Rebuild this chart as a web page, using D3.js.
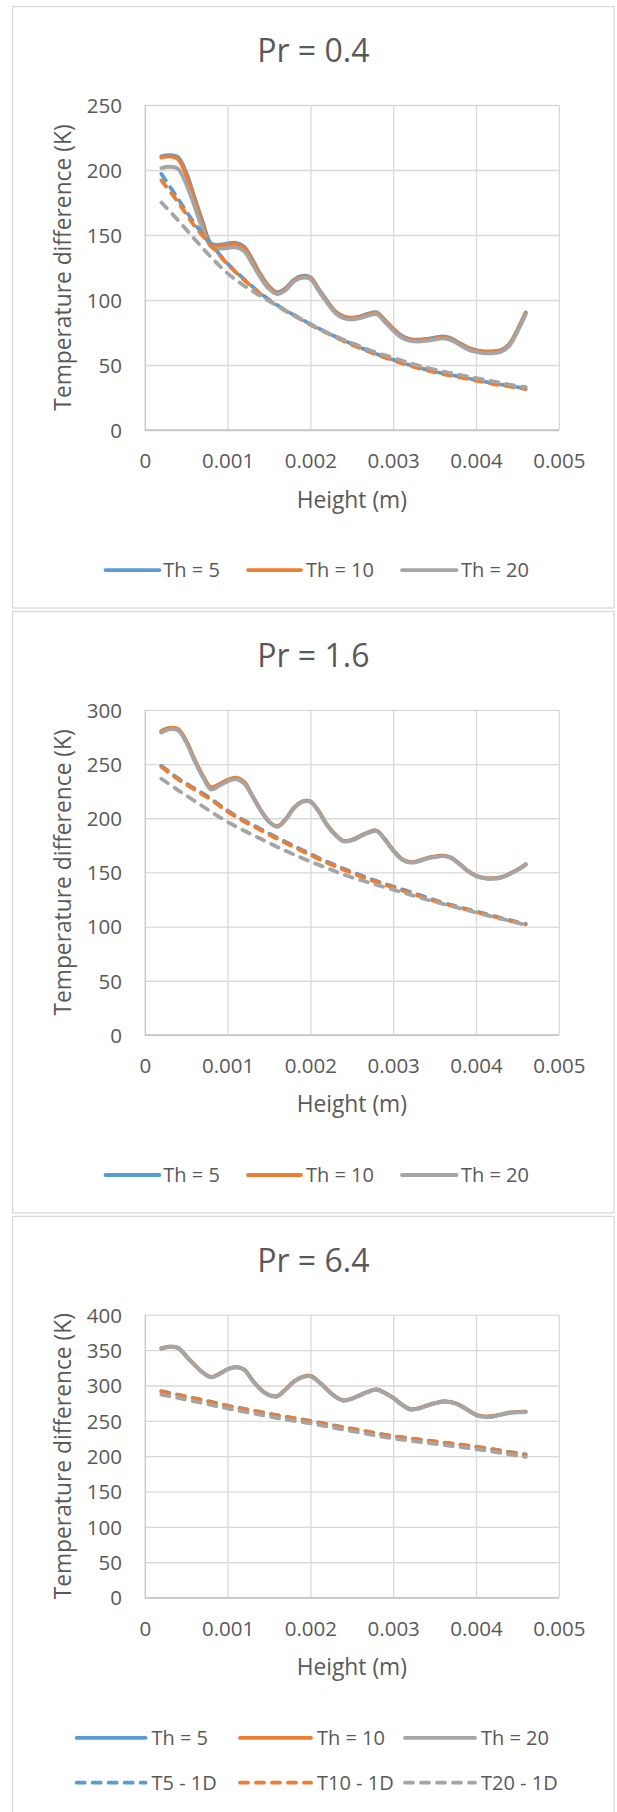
<!DOCTYPE html>
<html><head><meta charset="utf-8">
<script src="https://cdn.jsdelivr.net/npm/d3@7"></script>
<style>
html,body{margin:0;padding:0;background:#fff;}
svg{display:block;font-family:"Open Sans","Noto Sans",sans-serif;}
</style></head><body>
<svg id="chart" width="617" height="1812"></svg>
<script>
// ---------------- DATA ----------------
const heightSolid = [0.0002,0.0003,0.0004,0.0005,0.0006,0.0007,0.0008,0.0009,0.0010,0.0011,0.0012,0.0013,0.0014,0.0015,0.0016,0.0017,0.0018,0.0019,0.0020,0.0021,0.0022,0.0023,0.0024,0.0025,0.0026,0.0027,0.0028,0.0029,0.0030,0.0031,0.0032,0.0033,0.0034,0.0035,0.0036,0.0037,0.0038,0.0039,0.0040,0.0041,0.0042,0.0043,0.0044,0.0045,0.0046];
const heightDashed = [0.0002,0.0004,0.0006,0.0008,0.0010,0.0012,0.0014,0.0016,0.0018,0.0020,0.0022,0.0024,0.0026,0.0028,0.0030,0.0032,0.0034,0.0036,0.0038,0.0040,0.0042,0.0044,0.0046];

const xTickValues = [0,0.001,0.002,0.003,0.004,0.005];
const xTickLabels = ["0","0.001","0.002","0.003","0.004","0.005"];

const seriesNames = ["Th = 5","Th = 10","Th = 20","T5 - 1D","T10 - 1D","T20 - 1D"];
const seriesColors = ["#5B9BD5","#ED7D31","#A5A5A5"];

// Pr = 0.4
const pr04Title = "Pr = 0.4";
const pr04YTicks = [0,50,100,150,200,250];
const pr04Th5  = [210.5,211.5,210,198,179,160,143.5,142.5,143.5,144,141,131,119.5,110.5,106,109,115.5,118.5,117.5,108.5,99.5,91.5,87.5,86.5,87.5,89.5,90.5,84.5,78,72.5,70,69.5,70,71,72,70.5,67,63.5,61.5,60.5,60.5,61.5,66,77,90.5];
const pr04Th10 = [209.5,210.5,208.5,196,177,158,142,141.5,142.5,143,140,130,119,110,105.5,108.5,115,118,117,108,99,91,87,86,87,89,90,84,77.5,72,69.5,69,69.5,70.5,71.5,70,66.5,63,61,60,60,61,65.5,76.5,90];
const pr04Th20 = [201.5,202.5,201,189,172,154,141,139.5,140,140.5,137.5,127.5,117,108.5,104.5,107.5,114,117,116,107,98,90,86,85,86,88,89,83,76.5,71,68.5,68,68.5,69.5,70.5,69,65.5,62,60,59,59,60,64.5,75.5,89];
const pr04T5  = [197,178,159,143,128,116,105,96,88.5,81.5,75,69,63.5,58.5,54,50,46.5,43.5,41,38.5,36,34,32];
const pr04T10 = [192,175.5,157,142,127.5,115.5,104.5,95.5,88,81,74.5,68.5,63,58,53.5,49.5,46,43,40.5,38,35.5,33.5,31.5];
const pr04T20 = [175,161.5,147,133,120.5,111,103,95.5,88.5,81.5,75,69.5,64.5,59.5,55.5,51.5,48,45,42.5,40,37.5,35,33];

// Pr = 1.6
const pr16Title = "Pr = 1.6";
const pr16YTicks = [0,50,100,150,200,250,300];
const pr16Th5  = [280,283,282,271,254,239,228,231,235,237,233,220.5,207.5,197,192.5,199,209.5,215.5,215.5,206.5,194,185,179,180,183.5,187,188.5,180.5,170.5,162.5,159.5,160.5,163,164.5,165.5,163.5,158,151.5,147,145,144.5,145.5,148.5,152.5,157.5];
const pr16Th10 = [280.5,283.5,282.5,271.5,254.5,239.5,228.5,231.5,235.5,237.5,233.5,220.5,207.5,197,192.5,199,209.5,215.5,215.5,206.5,194,185,179,180,183.5,187,188.5,180.5,170.5,162.5,159.5,160.5,163,164.5,165.5,163.5,158,151.5,147,145,144.5,145.5,148.5,152.5,157.5];
const pr16Th20 = [279,282,281,270,253,238,226.5,230,234,236,232,220,207,197,192,198.5,209,215,215,206,193.5,184.5,178.5,179.5,183,186.5,188,180,170,162,159,160,162.5,164,165,163,157.5,151,146.5,144.5,144,145,148,152,157];
const pr16T5  = [248.5,237,227.5,218,207,198,190,182,174.5,167,160,153.5,147.5,142,137,132,127,122,118,114,110,106,102.5];
const pr16T10 = [247.5,236,226.5,217,206,197,189,181,173.5,166,159,152.5,146.5,141,136,131,126,121.5,117.5,113.5,109.5,105.5,102];
const pr16T20 = [236.5,226,216,206,196.5,188.5,181,173.5,166.5,160,154,148,143,138.5,134,129.5,125,121,117,113,109,105.5,101.5];

// Pr = 6.4
const pr64Title = "Pr = 6.4";
const pr64YTicks = [0,50,100,150,200,250,300,350,400];
const pr64Th5  = [352.5,355,353.5,341.5,329.5,318.5,312,316.5,323,326,322.5,307.5,294.5,286.5,285,294.5,305.5,312,313.5,305.5,294.5,284.5,279,281.5,286.5,291.5,294.5,289.5,282.5,273.5,266.5,267.5,271.5,275,277.5,276.5,272.5,265.5,258.5,256,256.5,259,261.5,262.5,263];
const pr64Th10 = [352.5,355,353.5,341.5,329.5,318.5,312,316.5,323,326,322.5,307.5,294.5,286.5,285,294.5,305.5,312,313.5,305.5,294.5,284.5,279,281.5,286.5,291.5,294.5,289.5,282.5,273.5,266.5,267.5,271.5,275,277.5,276.5,272.5,265.5,258.5,256,256.5,259,261.5,262.5,263];
const pr64Th20 = [352,354.5,353,341,329,318,311.5,316,322.5,325.5,322,307,294,286,284.5,294,305,311.5,313,305,294,284,278.5,281,286,291,294,289,282,273,266,267,271,274.5,277,276,272,265,258,255.5,256,258.5,261,262,262.5];
const pr64T5  = [292,287,282,277,271.5,267,262.5,258,254,250,245.5,241,237,232.5,228.5,225.5,222.5,219.5,216.5,213.5,210,206,202.5];
const pr64T10 = [291.5,286.5,281.5,276.5,271,266.5,262,257.5,253.5,249.5,245,240.5,236.5,232,228,225,222,219,216,213,209.5,205.5,202];
const pr64T20 = [287,282.5,277.5,272.5,267.5,263,258.5,254,250,246.5,242,237.5,233.5,229,225,222,219,216,213,210,206.5,202.5,199];

// ---------------- LAYOUT ----------------
const panels = [
  {title: pr04Title, yTicks: pr04YTicks, solid: [pr04Th5, pr04Th10, pr04Th20], dashed: [pr04T5, pr04T10, pr04T20], fullLegend: false},
  {title: pr16Title, yTicks: pr16YTicks, solid: [pr16Th5, pr16Th10, pr16Th20], dashed: [pr16T5, pr16T10, pr16T20], fullLegend: false},
  {title: pr64Title, yTicks: pr64YTicks, solid: [pr64Th5, pr64Th10, pr64Th20], dashed: [pr64T5, pr64T10, pr64T20], fullLegend: true}
];

const svg = d3.select("#chart");
svg.append("rect").attr("width",617).attr("height",1812).attr("fill","#fff");

const TEXT = "#595959";
const GRID = "#D9D9D9";
const plotLeft = 144.8, plotRight = 558.8;
const LW = 3.8;
const DASH = "8,8";

panels.forEach((p, i) => {
  const T = 6.6 + 604.9 * i;
  const g = svg.append("g");
  g.append("rect").attr("x",12.6).attr("y",T).attr("width",601.4).attr("height",601.4)
    .attr("fill","#fff").attr("stroke",GRID).attr("stroke-width",1.3);

  const top = T + 98.4;
  const bottom = T + (p.fullLegend ? 381.2 : 423.4);
  const x = d3.scaleLinear().domain([0,0.005]).range([plotLeft, plotRight]);
  const y = d3.scaleLinear().domain([0, d3.max(p.yTicks)]).range([bottom, top]);

  // title
  g.append("text").attr("x",313.3).attr("y",T+55.5).attr("text-anchor","middle")
    .attr("font-size",32).attr("fill",TEXT).text(p.title);

  // y axis + horizontal gridlines
  const ya = g.append("g").attr("transform",`translate(${plotLeft},0)`)
    .call(d3.axisLeft(y).tickValues(p.yTicks).tickFormat(d3.format("d"))
      .tickSize(-(plotRight-plotLeft)).tickPadding(22.8));
  ya.attr("font-family",null).attr("font-size",20.5).attr("color",TEXT);
  ya.select(".domain").remove();
  ya.selectAll(".tick line").attr("stroke",d => d === 0 ? "#C6C6C6" : GRID).attr("stroke-width",1.3);
  ya.selectAll(".tick text").attr("dy","0.36em");

  // x axis + vertical gridlines
  const xa = g.append("g").attr("transform",`translate(0,${bottom})`)
    .call(d3.axisBottom(x).tickValues(xTickValues).tickFormat((d,k) => xTickLabels[k])
      .tickSize(-(bottom-top)));
  xa.attr("font-family",null).attr("font-size",20.5).attr("color",TEXT);
  xa.select(".domain").remove();
  xa.selectAll(".tick line").attr("stroke",d => d === 0 ? "#C6C6C6" : GRID).attr("stroke-width",1.3);
  xa.selectAll(".tick text").attr("y",38).attr("dy",0);
  g.append("line").attr("x1",plotLeft).attr("x2",plotRight).attr("y1",y(0)).attr("y2",y(0))
    .attr("stroke","#C6C6C6").attr("stroke-width",1.3);

  // axis titles
  g.append("text").attr("transform",`translate(71,${(top+bottom)/2}) rotate(-90)`)
    .attr("text-anchor","middle").attr("font-size",22.8).attr("fill",TEXT)
    .text("Temperature difference (K)");
  g.append("text").attr("x",(plotLeft+plotRight)/2).attr("y",bottom+77.5)
    .attr("text-anchor","middle").attr("font-size",22.8).attr("fill",TEXT).text("Height (m)");

  // lines
  const line = d3.line().x(d => x(d[0])).y(d => y(d[1])).curve(d3.curveCatmullRom.alpha(0.5));
  p.solid.forEach((vals, k) => {
    g.append("path").datum(heightSolid.map((h, j) => [h, vals[j]]))
      .attr("d", line).attr("fill","none").attr("stroke",seriesColors[k])
      .attr("stroke-width",LW).attr("stroke-linejoin","round").attr("stroke-linecap","round");
  });
  p.dashed.forEach((vals, k) => {
    g.append("path").datum(heightDashed.map((h, j) => [h, vals[j]]))
      .attr("d", line).attr("fill","none").attr("stroke",seriesColors[k])
      .attr("stroke-width",LW).attr("stroke-linejoin","round").attr("stroke-linecap","round")
      .attr("stroke-dasharray",DASH);
  });

  // legend
  const leg = g.append("g");
  if (!p.fullLegend) {
    const lx = [[105.5,159.4,163.3],[248,301,306],[402,456.5,461]];
    const ly = T + 563.5;
    lx.forEach((c, k) => {
      leg.append("line").attr("x1",c[0]).attr("x2",c[1]).attr("y1",ly).attr("y2",ly)
        .attr("stroke",seriesColors[k]).attr("stroke-width",LW).attr("stroke-linecap","round");
      leg.append("text").attr("x",c[2]).attr("y",ly+7.2).attr("font-size",20)
        .attr("fill",TEXT).text(seriesNames[k]);
    });
  } else {
    const lx = [[76.7,145.6,151.5],[240,311,317],[405,475,481]];
    const rows = [T + 521.5, T + 566.3];
    rows.forEach((ly, r) => {
      lx.forEach((c, k) => {
        const ln = leg.append("line").attr("x1",c[0]).attr("x2",c[1]).attr("y1",ly).attr("y2",ly)
          .attr("stroke",seriesColors[k]).attr("stroke-width",LW).attr("stroke-linecap","round");
        if (r === 1) ln.attr("stroke-dasharray",DASH);
        leg.append("text").attr("x",c[2]).attr("y",ly+7.2).attr("font-size",20)
          .attr("fill",TEXT).text(seriesNames[r*3 + k]);
      });
    });
  }
});
</script>
</body></html>
